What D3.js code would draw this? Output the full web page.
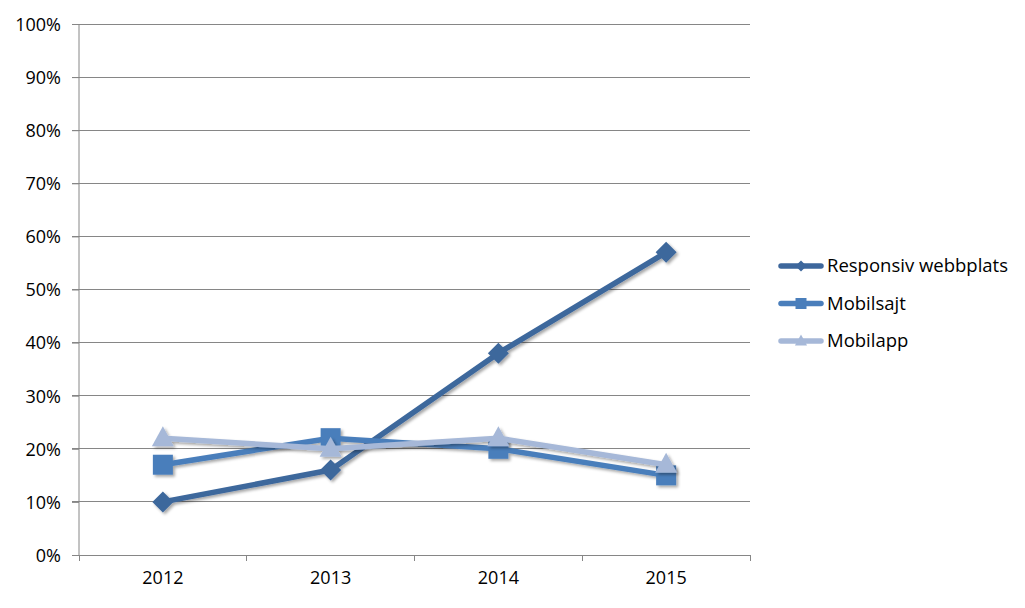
<!DOCTYPE html>
<html><head><meta charset="utf-8">
<script src="https://cdn.jsdelivr.net/npm/d3@7"></script>
<style>body{margin:0;background:#fff}svg{display:block}svg text{font-family:"Open Sans","Noto Sans",sans-serif}</style>
</head><body><svg id="c" width="1025" height="608"></svg>
<script>
const categories = ["2012","2013","2014","2015"];
const responsiv = [10,16,38,57];
const mobilsajt = [17,22,20,15];
const mobilapp = [22,20,22,17];
const seriesNames = ["Responsiv webbplats","Mobilsajt","Mobilapp"];
const yTicks = [0,10,20,30,40,50,60,70,80,90,100];

const series = [
  {name:seriesNames[0], values:responsiv, color:"#3d679c", marker:"diamond"},
  {name:seriesNames[1], values:mobilsajt, color:"#4a7ebb", marker:"square"},
  {name:seriesNames[2], values:mobilapp, color:"#a6b8d8", marker:"triangle"}
];

const svg = d3.select("#c");
const L=79, R=750, T=24, B=555;
const x = d3.scaleBand().domain(categories).range([L,R]);
const y = d3.scaleLinear().domain([0,100]).range([B,T]);

const defs = svg.append("defs");
const f = defs.append("filter").attr("id","sh").attr("x","-50%").attr("y","-50%").attr("width","200%").attr("height","200%");
f.append("feDropShadow").attr("dx",2).attr("dy",2).attr("stdDeviation",1.5).attr("flood-color","#000").attr("flood-opacity",0.35);

// gridlines
svg.append("g").selectAll("line").data(yTicks).join("line")
  .attr("x1",L-7).attr("x2",R).attr("y1",d=>y(d)).attr("y2",d=>y(d))
  .attr("stroke","#868686").attr("stroke-width",1).attr("shape-rendering","crispEdges");

// y axis
const ya = svg.append("g").attr("transform",`translate(${L},0)`)
  .call(d3.axisLeft(y).tickValues(yTicks).tickFormat(d=>d+"%").tickSize(7).tickPadding(11));
ya.attr("font-family",null).attr("font-size",18);
ya.select(".domain").attr("stroke","#868686").attr("d",`M0,${T}V${B}`);
ya.selectAll(".tick line").attr("stroke","#868686");
ya.selectAll("text").attr("fill","#000").attr("dy","0.35em");

// x axis
const xa = svg.append("g").attr("transform",`translate(0,${B})`)
  .call(d3.axisBottom(x).tickSize(0).tickPadding(16));
xa.attr("font-family",null).attr("font-size",18);
xa.select(".domain").attr("stroke","#868686");
xa.selectAll("text").attr("fill","#000");
xa.append("g").selectAll("line").data(categories.concat(["end"])).join("line")
  .attr("x1",(d,i)=>L+i*x.step()).attr("x2",(d,i)=>L+i*x.step())
  .attr("y1",0).attr("y2",6).attr("stroke","#868686").attr("shape-rendering","crispEdges");

const cx = c => x(c)+x.bandwidth()/2;
const line = d3.line().x((d,i)=>cx(categories[i])).y(d=>y(d));

function markerPath(type, s){
  if(type==="diamond") return `M0,${-s}L${s},0L0,${s}L${-s},0Z`;
  if(type==="square") return `M${-s},${-s}H${s}V${s}H${-s}Z`;
  return `M0,${-s*1.2}L${s*1.1},${s*0.8}H${-s*1.1}Z`;
}
const msize = {diamond:10.5, square:10, triangle:10};

series.forEach(s=>{
  const g = svg.append("g").attr("filter","url(#sh)");
  g.append("path").datum(s.values).attr("d",line).attr("fill","none")
    .attr("stroke",s.color).attr("stroke-width",5.5).attr("stroke-linejoin","round").attr("stroke-linecap","round");
  g.selectAll("path.m").data(s.values).join("path").attr("class","m")
    .attr("transform",(d,i)=>`translate(${cx(categories[i])},${y(d)})`)
    .attr("d",markerPath(s.marker,msize[s.marker])).attr("fill",s.color);
});

// legend
const lg = svg.append("g");
series.forEach((s,i)=>{
  const yy = 266 + i*37.5;
  const g = lg.append("g").attr("transform",`translate(0,${yy})`);
  g.append("line").attr("x1",781).attr("x2",821).attr("y1",0).attr("y2",0)
    .attr("stroke",s.color).attr("stroke-width",5.5).attr("stroke-linecap","round");
  g.append("path").attr("transform","translate(801,0)").attr("d",markerPath(s.marker,5.5)).attr("fill",s.color);
  g.append("text").attr("x",827).attr("y",0).attr("dy","0.35em").attr("font-size",18.5).attr("fill","#000").text(s.name);
});
</script></body></html>
